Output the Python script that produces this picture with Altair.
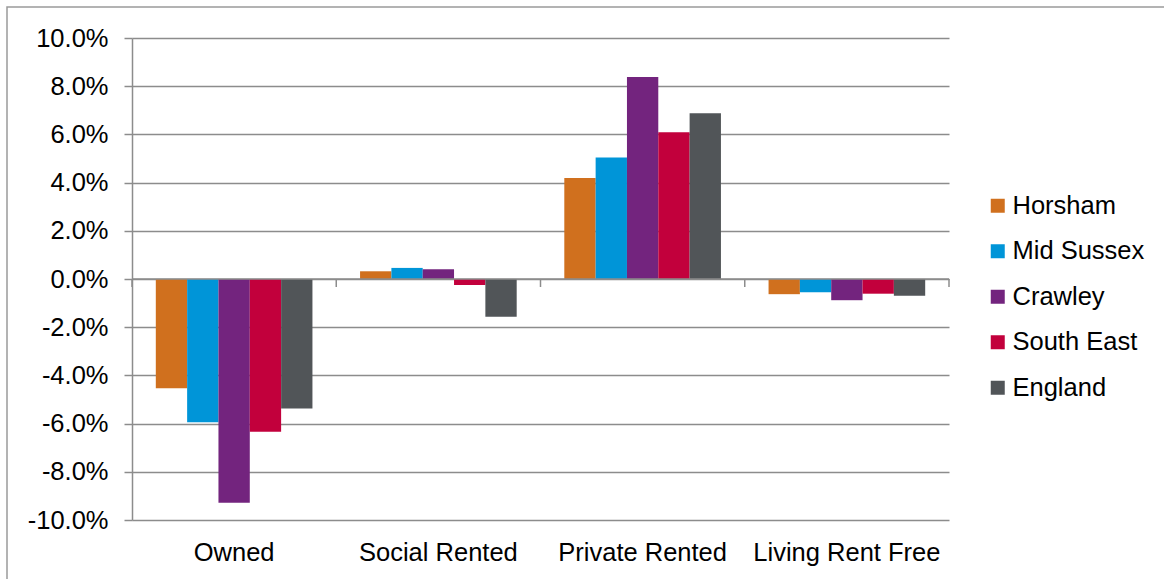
import altair as alt
import pandas as pd

categories = ["Owned", "Social Rented", "Private Rented", "Living Rent Free"]
series = ["Horsham", "Mid Sussex", "Crawley", "South East", "England"]
colors = ["#D0701E", "#0095D8", "#73247E", "#C2003C", "#515558"]

owned = [-4.53, -5.94, -9.28, -6.34, -5.37]
social_rented = [0.32, 0.46, 0.40, -0.25, -1.57]
private_rented = [4.19, 5.04, 8.38, 6.09, 6.88]
living_rent_free = [-0.63, -0.55, -0.88, -0.61, -0.69]

y_ticks = [-10, -8, -6, -4, -2, 0, 2, 4, 6, 8, 10]

rows = []
for cat, vals in zip(categories, [owned, social_rented, private_rented, living_rent_free]):
    for s, v in zip(series, vals):
        rows.append({"category": cat, "series": s, "value": v})
df = pd.DataFrame(rows)

W, H = 817, 482
GRID = "#8c8c8c"
FS = 25.5

x_scale = alt.Scale(paddingInner=0, paddingOuter=0)

bars = alt.Chart(df).mark_bar().encode(
    x=alt.X("category:N", sort=categories, scale=x_scale,
            axis=alt.Axis(title=None, ticks=False, domain=False, labelAngle=0,
                          labelFontSize=FS, labelPadding=20, labelColor="#000000",
                          labelLimit=0, grid=False)),
    xOffset=alt.XOffset("series:N", sort=series,
                        scale=alt.Scale(paddingInner=0, paddingOuter=0.76)),
    y=alt.Y("value:Q", scale=alt.Scale(domain=[-10, 10], nice=False),
            axis=alt.Axis(title=None, values=y_ticks,
                          labelExpr="(datum.value < 0 ? '-' : '') + format(abs(datum.value), '.1f') + '%'",
                          tickSize=8, tickColor=GRID, tickWidth=1.5,
                          domainColor=GRID, domainWidth=1.5,
                          gridColor=GRID, gridWidth=1.5,
                          labelFontSize=FS, labelPadding=16, labelColor="#000000")),
    color=alt.Color("series:N", sort=series,
                    scale=alt.Scale(domain=series, range=colors),
                    legend=alt.Legend(title=None, orient="none", legendX=853, legendY=155,
                                      symbolType="square", symbolSize=196,
                                      symbolStrokeWidth=0, labelFontSize=FS,
                                      labelColor="#000000", rowPadding=18.5,
                                      labelOffset=2, labelLimit=0)),
)

one = pd.DataFrame({"a": [0]})

zero_rule = alt.Chart(one).mark_rule(color=GRID, strokeWidth=1.5).encode(
    y=alt.datum(0), x=alt.value(0), x2=alt.value(W)
)

cat_df = pd.DataFrame({"category": categories})
cat_ticks = alt.Chart(cat_df).mark_rule(color=GRID, strokeWidth=1.5).encode(
    x=alt.X("category:N", sort=categories, bandPosition=0),
    y=alt.datum(0), y2=alt.value(H / 2 + 8)
)
end_tick = alt.Chart(one).mark_rule(color=GRID, strokeWidth=1.5).encode(
    x=alt.value(W), y=alt.datum(0), y2=alt.value(H / 2 + 8)
)

frame = alt.Chart(one).mark_rect(filled=False, stroke="#9a9a9a", strokeWidth=1.5).encode(
    x=alt.value(-125), x2=alt.value(1164 - 132 + 20),
    y=alt.value(-31), y2=alt.value(579 - 38 + 20)
)

chart = alt.layer(frame, bars, zero_rule, cat_ticks, end_tick).properties(
    width=W, height=H,
    autosize=alt.AutoSizeParams(type="none"),
    padding={"left": 132, "top": 38, "right": 1164 - 132 - W, "bottom": 579 - 38 - H},
).configure(font="Liberation Sans").configure_view(stroke=None)

chart.save("out.html", embed_options={"renderer": "svg", "actions": False})
